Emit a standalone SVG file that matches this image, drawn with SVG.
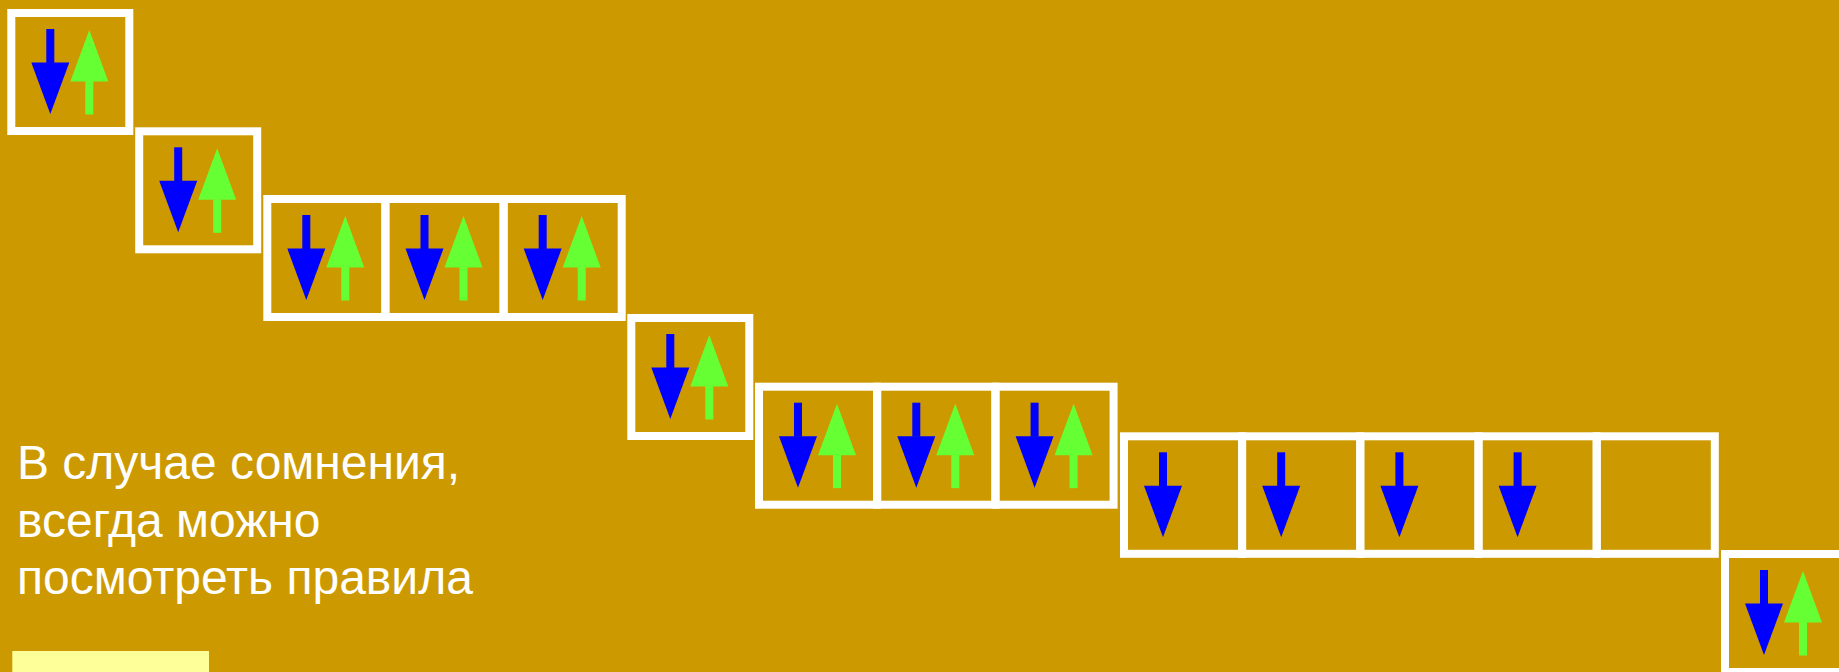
<svg xmlns="http://www.w3.org/2000/svg" xmlns:xlink="http://www.w3.org/1999/xlink" width="1839" height="672" viewBox="0 0 1839 672">
<style>
.cell{fill:none;stroke:#FFFFFF;stroke-width:8}
.dn{fill:#0000FF}
.up{fill:#66FF33}
.txt{font-family:"Liberation Sans",Arial,sans-serif;font-size:48px;fill:#FFFFFF}
</style>
<defs>
<g id="down"><rect class="dn" x="35" y="16" width="8" height="34"/><polygon class="dn" points="20,49.5 58,49.5 39,101"/></g>
<g id="upa"><polygon class="up" points="78,17 59,68.5 97,68.5"/><rect class="up" x="74" y="68" width="8" height="33.5"/></g>
<g id="pair"><use xlink:href="#down"/><use xlink:href="#upa"/></g>
</defs>
<rect x="0" y="0" width="1839" height="672" fill="#CC9900"/>
<g id="n1" transform="translate(11.3,13)"><rect class="cell" width="118" height="118"/><use xlink:href="#pair"/></g>
<g id="n2" transform="translate(139.2,131.3)"><rect class="cell" width="118" height="118"/><use xlink:href="#pair"/></g>
<g id="n3" transform="translate(267.3,199)"><rect class="cell" width="118" height="118"/><use xlink:href="#pair"/></g>
<g id="n4" transform="translate(385.5,199)"><rect class="cell" width="118" height="118"/><use xlink:href="#pair"/></g>
<g id="n5" transform="translate(503.7,199)"><rect class="cell" width="118" height="118"/><use xlink:href="#pair"/></g>
<g id="n6" transform="translate(631.3,318)"><rect class="cell" width="118" height="118"/><use xlink:href="#pair"/></g>
<g id="n7" transform="translate(759,386.7)"><rect class="cell" width="118" height="118"/><use xlink:href="#pair"/></g>
<g id="n8" transform="translate(877.3,386.7)"><rect class="cell" width="118" height="118"/><use xlink:href="#pair"/></g>
<g id="n9" transform="translate(995.6,386.7)"><rect class="cell" width="118" height="118"/><use xlink:href="#pair"/></g>
<g id="n10" transform="translate(1124,436.3)"><rect class="cell" width="118" height="117.5"/><use xlink:href="#down"/></g>
<g id="n11" transform="translate(1242.2,436.3)"><rect class="cell" width="118" height="117.5"/><use xlink:href="#down"/></g>
<g id="n12" transform="translate(1360.4,436.3)"><rect class="cell" width="118" height="117.5"/><use xlink:href="#down"/></g>
<g id="n13" transform="translate(1478.6,436.3)"><rect class="cell" width="118" height="117.5"/><use xlink:href="#down"/></g>
<g id="n14" transform="translate(1596.8,436.3)"><rect class="cell" width="118" height="117.5"/></g>
<g id="n15" transform="translate(1725,554)"><rect class="cell" width="118" height="118"/><use xlink:href="#pair"/></g>
<g id="connectors"/>
<g id="note">
<text class="txt" x="17" y="479.3">В случае сомнения,</text>
<text class="txt" x="17" y="536.5">всегда можно</text>
<text class="txt" x="17" y="593.5">посмотреть правила</text>
</g>
<rect id="button" x="12.3" y="651" width="196.7" height="21" fill="#FFFF99"/>
</svg>
